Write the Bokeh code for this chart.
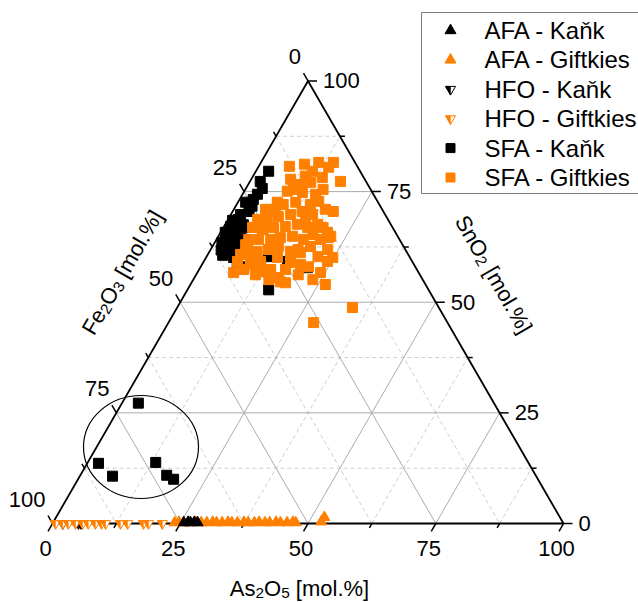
import math
from bokeh.plotting import figure
from bokeh.models import Range1d
from bokeh.core.properties import value
from bokeh.embed import file_html
from bokeh.resources import INLINE

SQ3 = math.sqrt(3)

# ---------------- data (mol.%: As2O5, SnO2; Fe2O3 = 100 - both) ----------------
tick_values = [0, 25, 50, 75, 100]
tick_labels = ["0", "25", "50", "75", "100"]
minor_values = [12.5, 37.5, 62.5, 87.5]

legend_labels = ["AFA - Kaňk", "AFA - Giftkies", "HFO - Kaňk", "HFO - Giftkies",
                 "SFA - Kaňk", "SFA - Giftkies"]

afa_kank_as = [25.6, 26.4, 26.9, 27.6, 28.3]
afa_kank_sn = [0.2, 0.3, 0.2, 0.3, 0.2]

afa_giftkies_as = [23.8, 24.6, 25.5, 26.6, 27.9, 29.0, 30.1, 31.2, 32.0, 33.1, 34.2, 35.0,
                   36.1, 37.3, 38.2, 39.4, 40.3, 41.5, 42.4, 43.6, 44.5, 45.8, 46.9, 47.5,
                   52.4, 52.5]
afa_giftkies_sn = [0.2, 0.3, 0.2, 0.2, 0.3, 0.2, 0.2, 0.3, 0.2, 0.2, 0.3, 0.2,
                   0.2, 0.3, 0.2, 0.2, 0.3, 0.2, 0.2, 0.3, 0.2, 0.2, 0.3, 0.2,
                   0.4, 1.4]

hfo_kank_as = [2.0, 5.1, 5.6]
hfo_kank_sn = [0.0, 0.0, 0.0]

hfo_giftkies_as = [0.6, 2.0, 3.1, 4.5, 5.9, 7.0, 8.4, 9.6, 10.4, 13.3, 14.7, 17.8, 18.8, 21.5]
hfo_giftkies_sn = [0.0, 0.0, 0.0, 0.0, 0.0, 0.0, 0.0, 0.0, 0.0, 0.0, 0.0, 0.0, 0.0, 0.0]

sfa_kank_as = [2.5, 2.0, 3.2, 2.9, 2.7, 1.5, 3.2, 2.0, 1.6, 3.0, 4.2, 2.2, 3.7, 5.3, 1.3,
               4.9, 4.4, 1.8, 2.9, 1.9, 3.2, 5.4, 6.9, 8.5, 12.1, 13.6, 15.9, 16.4, 21.0,
               7.8, 1.0, 2.6, 3.6, 0.9, 2.7, 4.0, 1.4, 3.3, 2.1, 4.4, 3.0,
               3.2, 2.2, 6.4, 13.3, 16.9, 18.7]
sfa_kank_sn = [79.6, 77.3, 75.7, 74.4, 73.2, 72.6, 71.7, 68.7, 67.6, 66.4, 65.3, 66.0,
               64.2, 64.2, 67.1, 63.0, 66.9, 64.6, 63.0, 69.8, 70.5, 60.1, 58.5, 57.8,
               60.3, 56.9, 52.8, 59.2, 57.8, 58.0, 68.5, 68.0, 67.5, 65.8, 65.0, 63.8,
               63.5, 62.0, 61.8, 61.2, 60.6,
               27.2, 13.6, 10.7, 13.8, 10.9, 10.0]

sfa_giftkies_as = [6.0, 8.7, 11.1, 13.8, 17.7, 10.2, 12.0, 13.7, 15.2, 8.4, 9.4, 11.5,
                   7.7, 6.2, 9.1, 11.3, 15.7, 17.9, 19.7, 5.8, 7.7, 9.5, 11.7, 13.6,
                   16.0, 18.1, 19.5, 20.9, 22.0, 5.7, 7.9, 9.8, 12.0, 14.1, 16.5, 6.3,
                   8.2, 10.6, 12.3, 14.5, 17.0, 7.2, 9.3, 11.3, 12.9, 17.1, 19.2, 15.8,
                   8.9, 11.1, 14.0, 16.8, 21.8, 22.9, 24.8, 7.1, 9.5, 11.5, 14.8, 16.4,
                   18.4, 20.0, 23.4, 24.1, 26.4, 21.1, 24.2, 21.7, 34.3, 28.4, 17.3, 14.0,
                   17.1, 17.9, 11.3, 14.2, 6.4, 6.3, 6.6, 8.7, 11.6, 13.2, 16.9, 19.3,
                   18.3, 14.3, 10.2, 7.7, 14.4, 8.1, 15.2, 20.3]
sfa_giftkies_sn = [80.7, 81.2, 79.6, 80.5, 77.3, 78.5, 77.1, 78.2, 75.5, 75.1, 75.5, 74.8,
                   72.6, 71.0, 72.1, 72.6, 72.8, 71.0, 70.5, 68.7, 68.7, 69.4, 69.8, 70.5,
                   69.8, 67.6, 66.9, 65.8, 64.9, 66.9, 66.4, 66.9, 67.1, 67.6, 66.9, 64.2,
                   64.2, 64.2, 64.6, 64.9, 64.2, 61.9, 61.5, 61.9, 62.6, 61.9, 62.6, 61.5,
                   59.6, 59.2, 60.1, 59.6, 60.3, 61.9, 60.1, 56.7, 58.5, 58.5, 55.1, 55.6,
                   54.4, 56.2, 55.1, 56.7, 54.0, 58.0, 59.2, 64.6, 48.8, 45.4, 54.6, 57.4,
                   59.0, 61.2, 81.6, 81.6, 60.8, 63.0, 59.2, 57.4, 56.2, 56.9, 57.4, 58.5,
                   65.3, 74.4, 76.6, 77.8, 72.1, 71.0, 68.7, 64.2]

# axis titles as (text, is_subscript) pieces; a lone " " only advances the pen
title_as = [("As", False), ("2", True), ("O", False), ("5", True), (" ", False), ("[mol.%]", False)]
title_fe = [("Fe", False), ("2", True), ("O", False), ("3", True), (" ", False), ("[mol.%]", False)]
title_sn = [("SnO", False), ("2", True), (" ", False), ("[mol.%]", False)]

# ---------------- layout / style ----------------
ORANGE = "#FF8000"
BLACK = "#000000"
FONT = "Liberation Sans"
S = 5.11            # pixels per ternary unit
W, H = 638, 602
X0 = -52.0 / S      # bottom-left vertex at pixel (52, 523)
Y1 = 523.0 / S

# Arial / Liberation Sans advance widths (em)
CW = {"A": 0.667, "s": 0.5, "O": 0.778, "F": 0.611, "e": 0.556, "S": 0.667, "n": 0.556,
      " ": 0.278, "[": 0.278, "m": 0.833, "o": 0.556, "l": 0.222, ".": 0.278, "%": 0.889,
      "]": 0.278}


def tern(a_list, s_list):
    xs = [a + s / 2.0 for a, s in zip(a_list, s_list)]
    ys = [s * SQ3 / 2.0 for s in s_list]
    return xs, ys


def img2data(ix, iy):
    return X0 + ix / S, Y1 - iy / S


p = figure(width=W, height=H, x_range=Range1d(X0, X0 + W / S),
           y_range=Range1d(Y1 - H / S, Y1), output_backend="svg",
           toolbar_location=None, x_axis_location=None, y_axis_location=None,
           min_border=0, outline_line_color=None, background_fill_color="white")
p.grid.visible = False

# ---- grid ----
def grid_lines(vals):
    xs, ys = [], []
    for v in vals:
        for (a1, s1, a2, s2) in [(0, v, 100 - v, v), (v, 0, v, 100 - v), (0, 100 - v, 100 - v, 0)]:
            gx, gy = tern([a1, a2], [s1, s2])
            xs.append(gx)
            ys.append(gy)
    return xs, ys

mx, my = grid_lines(minor_values)
p.multi_line(mx, my, line_color="#cfcfcf", line_width=1, line_dash="4 3")
gx, gy = grid_lines([25, 50, 75])
p.multi_line(gx, gy, line_color="#ababab", line_width=1)

# ---- triangle frame ----
fx, fy = tern([0, 100, 0, 0], [0, 0, 100, 0])
p.line(fx, fy, line_color=BLACK, line_width=1.8)

# ---- ticks ----
tick_xs, tick_ys = [], []
all_ticks = [(v, 9) for v in tick_values] + [(v, 5) for v in minor_values]
for v, L in all_ticks:
    d = L / S
    bx, by = tern([v], [0])
    tick_xs.append([bx[0], bx[0] - 0.5 * d]); tick_ys.append([by[0], by[0] - SQ3 / 2 * d])
    rx, ry = tern([100 - v], [v])
    tick_xs.append([rx[0], rx[0] + d]); tick_ys.append([ry[0], ry[0]])
    lx, ly = tern([0], [100 - v])
    tick_xs.append([lx[0], lx[0] - 0.5 * d]); tick_ys.append([ly[0], ly[0] + SQ3 / 2 * d])
p.multi_line(tick_xs, tick_ys, line_color=BLACK, line_width=1.5)

# ---- tick labels ----
TICK_FS = "22px"
bx, by = tern(tick_values, [0] * len(tick_values))
p.text(bx, by, text=tick_labels, x_offset=-7, y_offset=25, text_align="center",
       text_baseline="middle", text_font=value(FONT), text_font_size=TICK_FS)
rx, ry = tern([100 - v for v in tick_values], tick_values)
p.text(rx, ry, text=tick_labels, x_offset=15, y_offset=0, text_align="left",
       text_baseline="middle", text_font=value(FONT), text_font_size=TICK_FS)
lx, ly = tern([0] * len(tick_values), [100 - v for v in tick_values])
p.text(lx, ly, text=tick_labels, x_offset=-7, y_offset=-24, text_align="right",
       text_baseline="middle", text_font=value(FONT), text_font_size=TICK_FS)


# ---- axis titles (with real subscripts) ----
def rich_title(pieces, cx_img, cy_img, angle, F):
    items = []
    total = 0.0
    for txt, sub in pieces:
        fs = F * 0.7 if sub else F
        items.append((txt, sub, fs, total))
        total += sum(CW.get(c, 0.556) for c in txt) * fs
    cx, cy = img2data(cx_img, cy_img)
    c, s = math.cos(angle), math.sin(angle)
    bx0 = cx - total / 2 / S * c + 0.36 * F / S * s
    by0 = cy - total / 2 / S * s - 0.36 * F / S * c
    for txt, sub, fs, adv in items:
        if not txt.strip():
            continue
        x = bx0 + adv / S * c
        y = by0 + adv / S * s
        if sub:
            sh = 0.2 * F / S
            x += sh * s
            y -= sh * c
        p.text([x], [y], text=[txt], angle=angle, text_align="left",
               text_baseline="alphabetic", text_font=value(FONT),
               text_font_size=f"{fs:.1f}px")


rich_title(title_as, 299, 580, 0.0, 22)
rich_title(title_fe, 115, 268, math.pi / 3, 22)
rich_title(title_sn, 500, 270, -math.pi / 3, 22)

# ---- ellipse around low-Sn SFA points ----
ex, ey = img2data(140.5, 446.5)
p.ellipse([ex], [ey], width=115 / S, height=103 / S, fill_color=None,
          line_color=BLACK, line_width=1.2)


def half_patches(xs, ys, size):
    r = size / 2.0
    h = r * SQ3
    a = h / 3.0
    pxs, pys = [], []
    for x, y in zip(xs, ys):
        pxs.append([x - r / S, x, x])
        pys.append([y + a / S, y + a / S, y - (h - a) / S])
    return pxs, pys


TRI = 11
ITRI = 10
SQ = 10

# ---- data points ----
x, y = tern(afa_giftkies_as, afa_giftkies_sn)
p.scatter(x, y, marker="triangle", size=TRI, fill_color=ORANGE, line_color=ORANGE)
x, y = tern(afa_kank_as, afa_kank_sn)
p.scatter(x, y, marker="triangle", size=TRI, fill_color=BLACK, line_color=BLACK)

x, y = tern(hfo_kank_as, hfo_kank_sn)
p.scatter(x, y, marker="inverted_triangle", size=ITRI, fill_color="white", line_color=BLACK)
hx, hy = half_patches(x, y, ITRI)
p.patches(hx, hy, fill_color=BLACK, line_color=BLACK, line_width=0.5)

x, y = tern(hfo_giftkies_as, hfo_giftkies_sn)
p.scatter(x, y, marker="inverted_triangle", size=ITRI, fill_color="white", line_color=ORANGE)
hx, hy = half_patches(x, y, ITRI)
p.patches(hx, hy, fill_color=ORANGE, line_color=ORANGE, line_width=0.5)

x, y = tern(sfa_kank_as, sfa_kank_sn)
p.scatter(x, y, marker="square", size=SQ, fill_color=BLACK, line_color=BLACK)
x, y = tern(sfa_giftkies_as, sfa_giftkies_sn)
p.scatter(x, y, marker="square", size=SQ, fill_color=ORANGE, line_color=ORANGE)

# ---- legend (drawn manually) ----
lx0, ly0 = img2data(421, 12)
lx1, ly1 = img2data(645, 193)
p.quad(left=[lx0], right=[lx1], top=[ly0], bottom=[ly1], fill_color="white",
       line_color="#7a7a7a", line_width=1)
row_y = [img2data(0, 30 + 29.4 * i)[1] for i in range(6)]
mk_x = img2data(450, 0)[0]
txt_x = img2data(484, 0)[0]
p.scatter([mk_x], [row_y[0]], marker="triangle", size=TRI, fill_color=BLACK, line_color=BLACK)
p.scatter([mk_x], [row_y[1]], marker="triangle", size=TRI, fill_color=ORANGE, line_color=ORANGE)
p.scatter([mk_x], [row_y[2]], marker="inverted_triangle", size=ITRI, fill_color="white", line_color=BLACK)
hx, hy = half_patches([mk_x], [row_y[2]], ITRI)
p.patches(hx, hy, fill_color=BLACK, line_color=BLACK, line_width=0.5)
p.scatter([mk_x], [row_y[3]], marker="inverted_triangle", size=ITRI, fill_color="white", line_color=ORANGE)
hx, hy = half_patches([mk_x], [row_y[3]], ITRI)
p.patches(hx, hy, fill_color=ORANGE, line_color=ORANGE, line_width=0.5)
p.scatter([mk_x], [row_y[4]], marker="square", size=SQ - 1, fill_color=BLACK, line_color=BLACK)
p.scatter([mk_x], [row_y[5]], marker="square", size=SQ - 1, fill_color=ORANGE, line_color=ORANGE)
p.text([txt_x] * 6, row_y, text=legend_labels, text_align="left", text_baseline="middle",
       text_font=value(FONT), text_font_size="24px")

open("out.html", "w").write(file_html(p, INLINE))
